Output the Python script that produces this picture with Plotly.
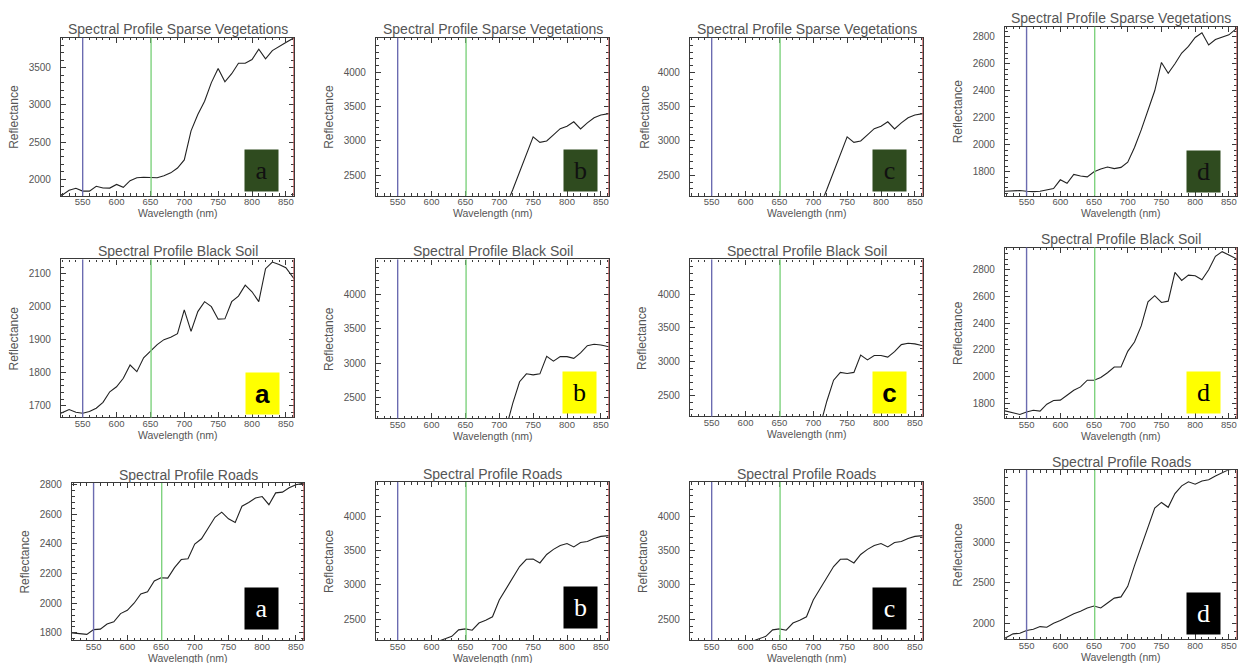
import plotly.graph_objects as go

# ---------------- data ----------------
wavelength = [518, 530, 540, 550, 560, 570, 580, 590, 600, 610, 620, 630, 640, 650, 660, 670,
              680, 690, 700, 710, 720, 730, 740, 750, 760, 770, 780, 790, 800, 810, 820, 830,
              840, 850, 862]

veg_a = [1776, 1850, 1878, 1840, 1840, 1905, 1882, 1880, 1930, 1890, 1980, 2020, 2027, 2027, 2020, 2045,
         2085, 2150, 2260, 2650, 2870, 3050, 3300, 3490, 3310, 3420, 3560, 3560, 3610, 3750, 3620, 3730,
         3790, 3840, 3903]
veg_bc = [1520, 1540, 1560, 1540, 1550, 1580, 1570, 1580, 1610, 1600, 1640, 1670, 1680, 1680, 1690, 1710,
          1750, 1800, 1900, 2050, 2290, 2540, 2800, 3060, 2980, 3000, 3090, 3180, 3215, 3280, 3175, 3265,
          3340, 3380, 3400]
veg_d = [1655, 1660, 1660, 1655, 1652, 1655, 1665, 1675, 1740, 1714, 1780, 1768, 1762, 1800, 1820, 1835,
         1823, 1832, 1870, 1980, 2110, 2250, 2400, 2610, 2530, 2600, 2680, 2730, 2795, 2830, 2740, 2780,
         2795, 2815, 2865]

soil_a = [1677, 1688, 1680, 1677, 1682, 1692, 1710, 1742, 1757, 1783, 1823, 1803, 1845, 1865, 1885, 1900,
          1907, 1918, 1990, 1925, 1985, 2015, 2000, 1962, 1963, 2015, 2032, 2065, 2045, 2015, 2115, 2135,
          2128, 2118, 2085]
soil_bc = [1500, 1520, 1530, 1520, 1530, 1550, 1570, 1590, 1610, 1630, 1660, 1650, 1680, 1700, 1720, 1740,
           1750, 1780, 1900, 2050, 2420, 2730, 2845, 2830, 2845, 3100, 3030, 3095, 3095, 3070, 3150, 3255,
           3275, 3265, 3238]
soil_d = [1745, 1728, 1718, 1736, 1750, 1743, 1795, 1823, 1825, 1862, 1899, 1924, 1974, 1974, 1995, 2030,
          2073, 2073, 2190, 2260, 2380, 2560, 2606, 2555, 2565, 2780, 2720, 2760, 2755, 2725, 2800, 2900,
          2935, 2910, 2880]

road_a = [1800, 1795, 1790, 1822, 1825, 1860, 1875, 1930, 1952, 2000, 2063, 2078, 2150, 2172, 2170, 2240,
          2295, 2300, 2400, 2435, 2510, 2580, 2615, 2570, 2545, 2655, 2680, 2710, 2720, 2665, 2745, 2750,
          2780, 2800, 2811]
road_bc = [1900, 1920, 1930, 1950, 1970, 1990, 2020, 2050, 2100, 2180, 2215, 2250, 2345, 2360, 2340, 2445,
           2485, 2536, 2780, 2940, 3090, 3270, 3375, 3380, 3322, 3445, 3520, 3575, 3605, 3555, 3620, 3635,
           3680, 3710, 3720]
road_d = [1816, 1869, 1877, 1910, 1926, 1959, 1951, 2000, 2033, 2078, 2116, 2147, 2187, 2212, 2188, 2250,
          2310, 2325, 2455, 2710, 2955, 3200, 3420, 3490, 3430, 3600, 3695, 3745, 3715, 3755, 3770, 3815,
          3860, 3895, 3900]

titles = ["Spectral Profile Sparse Vegetations", "Spectral Profile Black Soil", "Spectral Profile Roads"]
panel_letters = ["a", "b", "c", "d"]
band_lines = [550, 651, 862]          # blue, green, red band markers (nm)
x_ticks = [550, 600, 650, 700, 750, 800, 850]

series = [[veg_a, veg_bc, veg_bc, veg_d],
          [soil_a, soil_bc, soil_bc, soil_d],
          [road_a, road_bc, road_bc, road_d]]
y_ranges = [[[1776, 3903], [2198, 4508], [2198, 4508], [1621, 2874]],
            [[1664, 2143], [2195, 4510], [2195, 4510], [1688, 2966]],
            [[1751, 2811], [2195, 4502], [2195, 4502], [1804, 3888]]]
y_tickvals = [[[2000, 2500, 3000, 3500], [2500, 3000, 3500, 4000], [2500, 3000, 3500, 4000],
               [1800, 2000, 2200, 2400, 2600, 2800]],
              [[1700, 1800, 1900, 2000, 2100], [2500, 3000, 3500, 4000], [2500, 3000, 3500, 4000],
               [1800, 2000, 2200, 2400, 2600, 2800]],
              [[1800, 2000, 2200, 2400, 2600, 2800], [2500, 3000, 3500, 4000], [2500, 3000, 3500, 4000],
               [2000, 2500, 3000, 3500]]]

# ---------------- layout geometry (pixels) ----------------
W, H = 1238, 663
# left, right, top, bottom of each plot area
boxes = [[(61, 294, 34, 193), (376, 609, 34, 193), (690, 923, 34, 193), (1005, 1237, 23, 193)],
         [(61, 294, 257, 416), (376, 609, 257, 417), (690, 923, 257, 415), (1005, 1237, 245, 417)],
         [(72, 304, 482, 640), (376, 609, 481, 640), (690, 923, 481, 640), (1005, 1237, 469, 639)]]
ylab_x = [[14, 329, 645, 958], [14, 329, 642, 958], [25, 329, 643, 958]]
label_centers = [[(261.5, 167.5), (580, 167.5), (889, 167.5), (1203.5, 169)],
                 [(262, 391.5), (579, 391), (889, 391), (1203.5, 391)],
                 [(261.5, 608), (580, 607.5), (889, 608), (1203.5, 613)]]
label_bg = ["#2f4b1f", "#ffff00", "#000000"]
label_fg = ["#111111", "#000000", "#ffffff"]
label_font = [["Liberation Serif"] * 4,
              ["Liberation Sans", "Liberation Serif", "Liberation Sans", "Liberation Serif"],
              ["Liberation Serif"] * 4]
label_bold = [[False] * 4, [True, False, True, False], [False] * 4]

def px(x):
    return x / W

def py(y):
    return 1 - y / H

fig = go.Figure()
layout = dict(width=W, height=H, margin=dict(l=0, r=0, t=0, b=0),
              paper_bgcolor="white", plot_bgcolor="white", showlegend=False)
shapes = []
annotations = []
axis_col = "#3a3a3a"
txt_col = "#555555"
font_fam = "Liberation Sans"
line_cols = ["#6b6bb0", "#7fd27f", "#c85a5a"]

idx = 0
for r in range(3):
    for c in range(4):
        idx += 1
        sfx = "" if idx == 1 else str(idx)
        L, R, T, B = boxes[r][c]
        fig.add_trace(go.Scatter(x=wavelength, y=series[r][c], mode="lines",
                                 line=dict(color="#222222", width=1.1),
                                 xaxis="x" + sfx, yaxis="y" + sfx, hoverinfo="skip"))
        common = dict(showgrid=False, zeroline=False, showline=True, linecolor=axis_col,
                      linewidth=1.2, mirror="ticks", ticks="inside", ticklen=5, tickwidth=1,
                      tickcolor=axis_col)
        layout["xaxis" + sfx] = dict(common, domain=[px(L), px(R)], range=[518, 862],
                                     anchor="y" + sfx, tickmode="array", tickvals=x_ticks,
                                     ticklabelstandoff=-3,
                                     tickfont=dict(size=9.5, color=txt_col, family=font_fam),
                                     minor=dict(ticks="inside", ticklen=2.5, tickcolor=axis_col,
                                                dtick=10, tick0=550))
        tv = y_tickvals[r][c]
        dt = tv[1] - tv[0]
        layout["yaxis" + sfx] = dict(common, domain=[py(B), py(T)], range=y_ranges[r][c],
                                     anchor="x" + sfx, tickmode="array", tickvals=tv,
                                     ticklabelstandoff=7,
                                     tickfont=dict(size=10, color=txt_col, family=font_fam),
                                     minor=dict(ticks="inside", ticklen=2.5, tickcolor=axis_col,
                                                dtick=dt / 5, tick0=0))
        for wl, col in zip(band_lines, line_cols):
            shapes.append(dict(type="line", xref="x" + sfx, yref="y" + sfx + " domain",
                               x0=wl, x1=wl, y0=0, y1=1, line=dict(color=col, width=1.4)))
        # panel title
        annotations.append(dict(text=titles[r], xref="paper", yref="paper",
                                x=px((L + R) / 2), y=py(T - 8.5), xanchor="center",
                                yanchor="middle", showarrow=False,
                                font=dict(size=14, color=txt_col, family=font_fam)))
        # axis titles
        annotations.append(dict(text="Wavelength (nm)", xref="paper", yref="paper",
                                x=px((L + R) / 2), y=py(B + 17.5), xanchor="center",
                                yanchor="middle", showarrow=False,
                                font=dict(size=10.5, color=txt_col, family=font_fam)))
        annotations.append(dict(text="Reflectance", xref="paper", yref="paper",
                                x=px(ylab_x[r][c]), y=py((T + B) / 2), xanchor="center",
                                yanchor="middle", textangle=-90, showarrow=False,
                                font=dict(size=12, color=txt_col, family=font_fam)))
        # panel letter box
        cx, cy = label_centers[r][c]
        letter = panel_letters[c]
        if label_bold[r][c]:
            letter = "<b>" + letter + "</b>"
        annotations.append(dict(text=letter, xref="paper", yref="paper",
                                x=px(cx), y=py(cy), xanchor="center", yanchor="middle",
                                width=31, height=39, bgcolor=label_bg[r],
                                showarrow=False, borderpad=1,
                                font=dict(size=26, color=label_fg[r], family=label_font[r][c])))

layout["shapes"] = shapes
layout["annotations"] = annotations
fig.update_layout(**layout)

pin_js = ("var gd=document.getElementById('{plot_id}');"
          "document.body.style.margin='0';document.body.style.overflow='hidden';"
          "gd.style.position='fixed';gd.style.left='0px';gd.style.top='0px';")
fig.write_html("out.html", post_script=pin_js, config={"displayModeBar": False})
